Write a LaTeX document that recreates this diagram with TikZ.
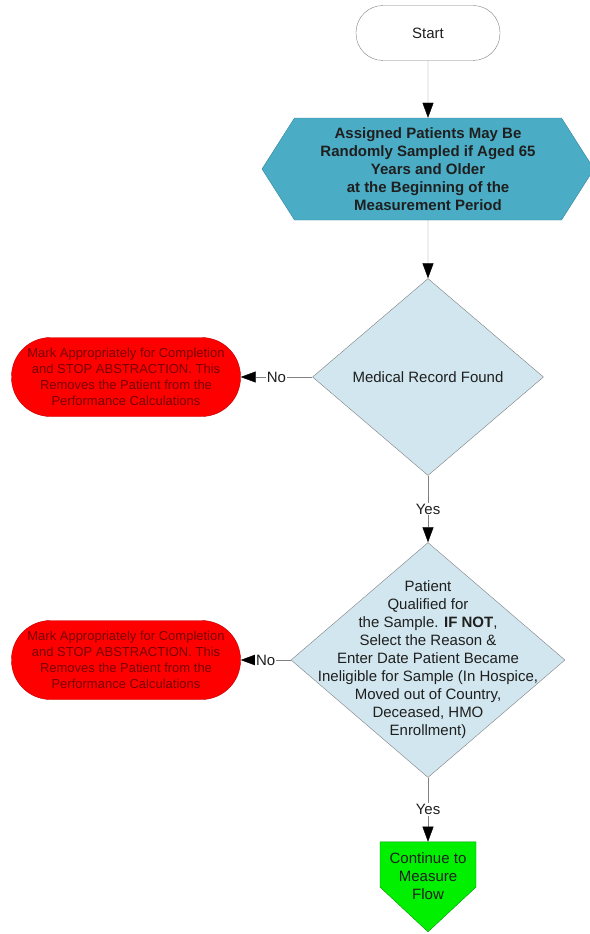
\documentclass[tikz,border=0pt]{standalone}
\usepackage{fontspec}
\setmainfont{Liberation Sans}
\usetikzlibrary{shapes.geometric,shapes.symbols,arrows.meta,positioning}

\definecolor{prepblue}{RGB}{75,172,198}
\definecolor{prepline}{RGB}{49,133,156}
\definecolor{askfill}{RGB}{209,230,238}
\definecolor{greyline}{RGB}{128,128,128}
\definecolor{stopred}{RGB}{255,0,0}
\definecolor{stopline}{RGB}{192,0,0}
\definecolor{stoptext}{RGB}{120,0,0}
\definecolor{gogreen}{RGB}{0,240,0}
\definecolor{goline}{RGB}{0,150,0}

\tikzset{
  base/.style={align=center, inner sep=2pt, text=black!88,
               font=\fontsize{15}{18}\selectfont},
  startbox/.style={base, draw=greyline, fill=white, rounded corners=27pt,
                   minimum width=144pt, minimum height=55pt},
  prepbox/.style={base, font=\fontsize{15}{18}\selectfont\bfseries,
                  signal, signal to=east and west, signal pointer angle=115,
                  draw=prepline, fill=prepblue,
                  minimum width=332pt, minimum height=102pt},
  askbox/.style={base, diamond, draw=greyline, fill=askfill},
  stopbox/.style={base, font=\fontsize{13}{16}\selectfont, text=stoptext,
                  draw=stopline, fill=stopred, rounded corners=39pt,
                  minimum width=229pt, minimum height=79pt},
  gobox/.style={base, signal, signal to=south, signal pointer angle=94,
                draw=goline, fill=gogreen,
                minimum width=96pt, minimum height=47pt},
  flow/.style={draw=greyline, -{Triangle[length=15pt,width=11pt,color=black]}},
  lbl/.style={fill=white, inner sep=1pt, text=black!88,
              font=\fontsize{15}{18}\selectfont}
}

\begin{document}
\begin{tikzpicture}[x=1pt,y=-1pt,on grid]
   \useasboundingbox (0,0) rectangle (589,934);
   \node[startbox] (start) at (428,33) {Start};
   \node[prepbox] (sampled) [below=136pt of start]
        {Assigned Patients May Be\\Randomly Sampled if Aged 65\\Years and Older\\
         at the Beginning of the\\Measurement Period};
   \node[askbox, minimum width=231pt, minimum height=197pt] (found)
        [below=208pt of sampled] {Medical Record Found};
   \node[stopbox] (stop_a) [left=302pt of found]
        {Mark Appropriately for Completion\\and STOP ABSTRACTION. This\\
         Removes the Patient from the\\Performance Calculations};
   \node[askbox, minimum width=274pt, minimum height=235pt] (qualified)
        [below=283pt of found]
        [label={[base]center:{Patient\\Qualified for\\the Sample. \textbf{IF NOT},\\
         Select the Reason \&\\Enter Date Patient Became\\
         Ineligible for Sample (In Hospice,\\Moved out of Country,\\
         Deceased, HMO\\Enrollment)}}] {};
   \node[stopbox] (stop_b) [left=302pt of qualified]
        {Mark Appropriately for Completion\\and STOP ABSTRACTION. This\\
         Removes the Patient from the\\Performance Calculations};
   \node[gobox] (measure) [below=204.5pt of qualified]
        [label={[base,yshift=-11.5pt]center:{Continue to\\Measure\\Flow}}] {};

    \path[flow]
    (start) edge (sampled)
    (sampled) edge (found)
    (found) edge node[lbl] {No} (stop_a)
            edge node[lbl] {Yes} (qualified)
    (qualified) edge node[lbl] {No} (stop_b)
                edge node[lbl] {Yes} (measure);
\end{tikzpicture}
\end{document}
